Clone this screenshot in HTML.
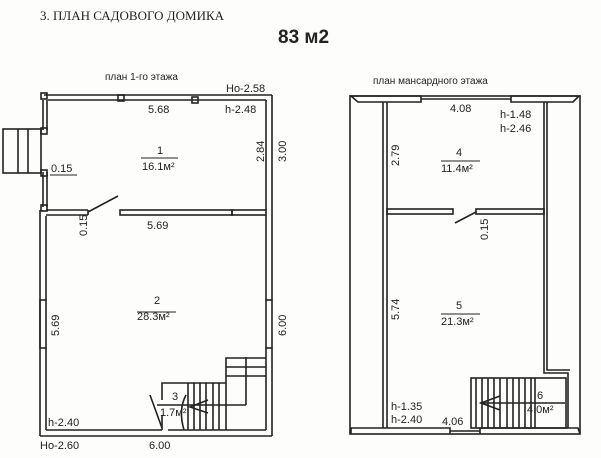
<!DOCTYPE html>
<html><head><meta charset="utf-8"><style>
html,body{margin:0;padding:0;background:#fff;}
svg{display:block}
text{font-family:"Liberation Sans",sans-serif;fill:#222;}
</style></head><body>
<svg width="601" height="458" viewBox="0 0 601 458" xmlns="http://www.w3.org/2000/svg">
<rect width="601" height="458" fill="#fdfdfb"/>
<text x="40" y="20" font-size="13" font-family="Liberation Serif" style="font-family:'Liberation Serif',serif">3. ПЛАН САДОВОГО ДОМИКА</text>
<text x="278" y="43" font-size="19" font-weight="bold">83 м2</text>
<text x="105" y="80" font-size="10">план 1-го этажа</text>
<text x="373" y="84" font-size="10">план мансардного этажа</text>
<g fill="none" stroke="#222" stroke-width="1.6">
<!-- LEFT PLAN -->
<line x1="44" y1="95" x2="272" y2="95"/>
<line x1="48" y1="100" x2="266" y2="100"/>
<line x1="266" y1="100" x2="266" y2="210"/>
<line x1="272" y1="95" x2="272" y2="300"/>
<line x1="266" y1="215" x2="266" y2="300"/>
<rect x="266" y="300" width="6" height="48"/>
<line x1="266" y1="348" x2="266" y2="430"/>
<line x1="272" y1="348" x2="272" y2="436"/>
<line x1="40" y1="436" x2="272" y2="436"/>
<line x1="46" y1="430" x2="162" y2="430"/>
<line x1="168" y1="430" x2="266" y2="430"/>
<line x1="40" y1="210" x2="40" y2="436"/>
<line x1="46" y1="216" x2="46" y2="300"/>
<rect x="40" y="300" width="6" height="48"/>
<line x1="46" y1="348" x2="46" y2="430"/>
<!-- verandah posts -->
<line x1="43" y1="100" x2="43" y2="130"/><line x1="47" y1="100" x2="47" y2="130"/>
<line x1="43" y1="172" x2="43" y2="207"/><line x1="47" y1="172" x2="47" y2="207"/>
<rect x="41" y="93" width="6" height="6"/><rect x="41" y="128" width="6" height="6"/>
<rect x="41" y="170" width="6" height="6"/><rect x="41" y="205" width="6" height="6"/>
<rect x="118" y="95" width="6" height="6"/><rect x="192" y="97" width="6" height="6"/>
<!-- left stairs -->
<rect x="3" y="129" width="38" height="44"/>
<line x1="18" y1="129" x2="18" y2="173"/><line x1="28" y1="129" x2="28" y2="173"/>
<!-- internal wall -->
<line x1="46" y1="210" x2="88" y2="210"/><line x1="46" y1="215" x2="88" y2="215"/>
<line x1="88" y1="210" x2="88" y2="215"/>
<rect x="120" y="210" width="112" height="5"/>
<rect x="232" y="210" width="34" height="5"/>
<line x1="88" y1="212" x2="118" y2="196"/>
<!-- inner stairs -->
<polyline points="162,400 162,383 226,383"/>
<line x1="162" y1="415" x2="162" y2="430"/>
<line x1="150" y1="395" x2="162" y2="428"/>
<line x1="157" y1="405" x2="246" y2="405"/>
<line x1="246" y1="357" x2="246" y2="405"/>
<polyline points="226,383 226,358 266,358"/>
<line x1="226" y1="367" x2="266" y2="367"/>
<line x1="226" y1="376" x2="266" y2="376"/>
<line x1="188" y1="383" x2="188" y2="430"/><line x1="194" y1="383" x2="194" y2="430"/>
<line x1="200" y1="383" x2="200" y2="430"/><line x1="206" y1="383" x2="206" y2="430"/>
<line x1="213" y1="383" x2="213" y2="430"/><line x1="219" y1="383" x2="219" y2="430"/>
<line x1="226" y1="383" x2="226" y2="430"/>
<path d="M186 395 Q178 410 184 430"/>
<polyline points="208,400 190,407 208,413"/>
<!-- RIGHT PLAN -->
<rect x="350" y="96" width="230" height="338"/>
<path d="M351 96 L421 96 L421 102 L358 102 Z"/>
<path d="M511 96 L579 96 L573 102 L511 102 Z"/>
<line x1="421" y1="99" x2="511" y2="99"/>
<line x1="383" y1="102" x2="383" y2="428"/>
<line x1="387" y1="102" x2="387" y2="428"/>
<polyline points="544,102 544,373 568,373 568,428"/>
<polyline points="547,102 547,370 570,370"/>
<rect x="387" y="209" width="66" height="5"/>
<rect x="476" y="209" width="68" height="5"/>
<line x1="476" y1="212" x2="455" y2="223"/>
<path d="M351 434 L351 428 L450 428 L450 434"/>
<path d="M480 434 L480 428 L578 428 L580 434"/>
<line x1="450" y1="431" x2="480" y2="431"/>
<rect x="471" y="378" width="95" height="50"/>
<line x1="476" y1="378" x2="476" y2="428"/><line x1="482" y1="378" x2="482" y2="428"/>
<line x1="488" y1="378" x2="488" y2="428"/><line x1="494" y1="378" x2="494" y2="428"/>
<line x1="500" y1="378" x2="500" y2="428"/><line x1="507" y1="378" x2="507" y2="428"/>
<line x1="513" y1="378" x2="513" y2="428"/><line x1="519" y1="378" x2="519" y2="428"/>
<line x1="525" y1="378" x2="525" y2="428"/><line x1="531" y1="378" x2="531" y2="428"/>
<line x1="535" y1="378" x2="535" y2="428"/>
<line x1="480" y1="403" x2="565" y2="403"/>
<polyline points="500,396 481,403 500,410"/>
<!-- fraction lines -->
<line x1="141" y1="158" x2="178" y2="158" stroke-width="1"/>
<line x1="137" y1="312" x2="176" y2="312" stroke-width="1"/>
<line x1="441" y1="161" x2="480" y2="161" stroke-width="1"/>
<line x1="441" y1="314" x2="480" y2="314" stroke-width="1"/>
<line x1="50" y1="175" x2="77" y2="175" stroke-width="1"/>
</g>
<g font-size="11">
<text x="226" y="92">Ho-2.58</text>
<text x="148" y="113">5.68</text>
<text x="225" y="113">h-2.48</text>
<text x="157" y="154">1</text>
<text x="142" y="170">16.1м²</text>
<text x="51" y="172">0.15</text>
<text x="147" y="229">5.69</text>
<text x="154" y="304">2</text>
<text x="137" y="320">28.3м²</text>
<text x="172" y="400">3</text>
<text x="160" y="416">1.7м²</text>
<text x="48" y="426">h-2.40</text>
<text x="40" y="449">Ho-2.60</text>
<text x="149" y="449">6.00</text>
<text x="450" y="112">4.08</text>
<text x="500" y="118">h-1.48</text>
<text x="500" y="132">h-2.46</text>
<text x="456" y="156">4</text>
<text x="441" y="172">11.4м²</text>
<text x="456" y="309">5</text>
<text x="441" y="325">21.3м²</text>
<text x="537" y="399">6</text>
<text x="527" y="413">4.0м²</text>
<text x="391" y="410">h-1.35</text>
<text x="391" y="423">h-2.40</text>
<text x="442" y="425">4.06</text>
<text transform="translate(264,162) rotate(-90)">2.84</text>
<text transform="translate(286,162) rotate(-90)">3.00</text>
<text transform="translate(87,236) rotate(-90)">0.15</text>
<text transform="translate(59,336) rotate(-90)">5.69</text>
<text transform="translate(286,336) rotate(-90)">6.00</text>
<text transform="translate(399,166) rotate(-90)">2.79</text>
<text transform="translate(488,240) rotate(-90)">0.15</text>
<text transform="translate(399,320) rotate(-90)">5.74</text>
</g>
</svg>
</body></html>
